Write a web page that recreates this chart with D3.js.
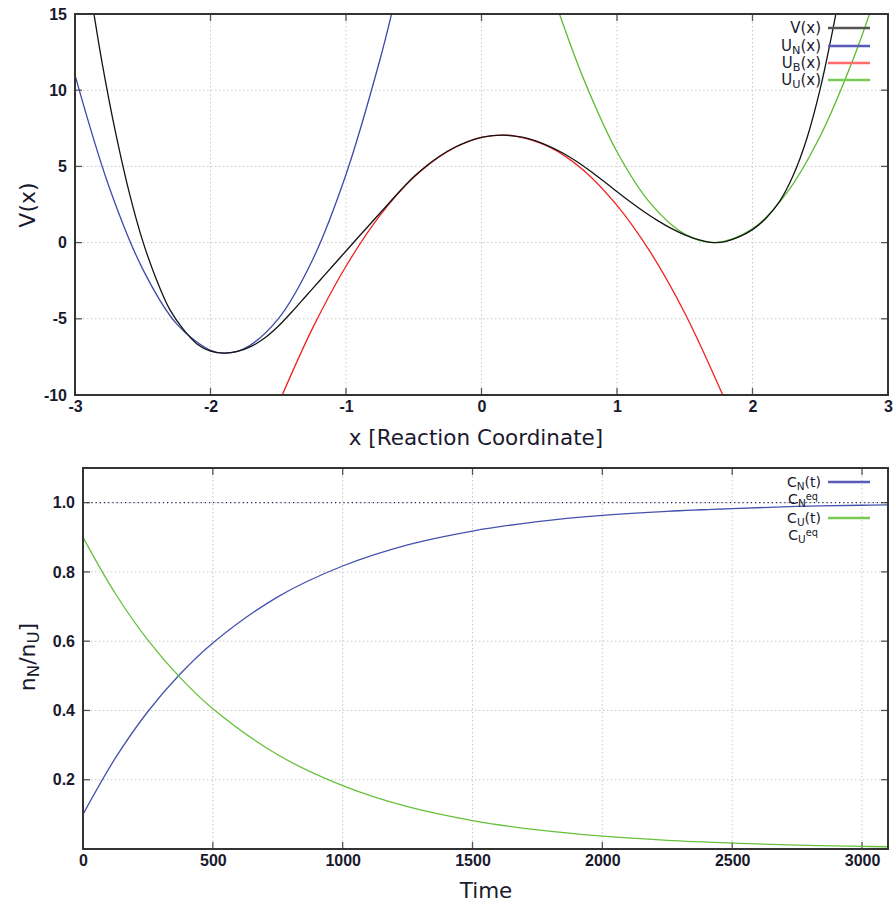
<!DOCTYPE html>
<html><head><meta charset="utf-8">
<script src="https://cdn.jsdelivr.net/npm/d3@7"></script>
<style>body{margin:0;background:#fff;} svg{display:block;}</style>
</head><body>
<svg id="c" width="894" height="906"></svg>
<script>
// ---------- top panel data ----------
const xTicksTop = [-3, -2, -1, 0, 1, 2, 3];
const yTicksTop = [-10, -5, 0, 5, 10, 15];
const vX = [-2.9, -2.86, -2.8, -2.7, -2.6, -2.5, -2.4, -2.3, -2.2, -2.1, -2.0, -1.9, -1.8, -1.7, -1.6, -1.5, -1.4, -1.3, -1.2, -1.1, -1.0, -0.9, -0.8, -0.7, -0.6, -0.5, -0.4, -0.3, -0.2, -0.1, 0.0, 0.155, 0.3, 0.4, 0.5, 0.6, 0.7, 0.8, 0.9, 1.0, 1.1, 1.2, 1.3, 1.4, 1.5, 1.6, 1.72, 1.8, 1.9, 2.0, 2.1, 2.2, 2.3, 2.4, 2.5, 2.6, 2.66];
const vY = [17.3, 15, 11.8, 7.2, 3.3, 0.1, -2.4, -4.4, -5.7, -6.65, -7.12, -7.25, -7.14, -6.81, -6.26, -5.49, -4.55, -3.55, -2.55, -1.55, -0.55, 0.45, 1.43, 2.42, 3.40, 4.32, 5.08, 5.72, 6.24, 6.63, 6.90, 7.05, 6.92, 6.68, 6.32, 5.88, 5.34, 4.72, 4.04, 3.34, 2.66, 2.02, 1.44, 0.93, 0.51, 0.2, 0, 0.07, 0.37, 0.85, 1.6, 2.7, 4.4, 6.8, 10.1, 14.3, 17.2];
const uNX = [-3.0, -2.75, -2.5, -2.25, -2.0, -1.89, -1.75, -1.5, -1.25, -1.0, -0.75, -0.65];
const uNY = [10.99, 3.70, -1.74, -5.33, -7.07, -7.25, -6.96, -5.00, -1.19, 4.47, 11.98, 15.51];
const uBX = [-1.49, -1.25, -1.0, -0.75, -0.5, -0.25, 0.0, 0.155, 0.25, 0.5, 0.75, 1.0, 1.25, 1.5, 1.79];
const uBY = [-10.40, -5.68, -1.55, 1.77, 4.28, 5.99, 6.90, 7.05, 6.99, 6.28, 4.77, 2.44, -0.68, -4.62, -10.19];
const uUX = [0.56, 0.75, 1.0, 1.25, 1.5, 1.72, 2.0, 2.25, 2.5, 2.75, 2.89];
const uUY = [15.4, 10.82, 5.96, 2.54, 0.557, 0, 0.90, 3.23, 7.00, 12.20, 15.7];

// ---------- bottom panel data ----------
const xTicksBot = [0, 500, 1000, 1500, 2000, 2500, 3000];
const yTicksBot = [0.2, 0.4, 0.6, 0.8, 1.0];
const tVals = [0, 125, 250, 375, 500, 750, 1000, 1250, 1500, 1750, 2000, 2250, 2500, 2750, 3000, 3100];
const cU = [0.90, 0.737, 0.603, 0.494, 0.405, 0.272, 0.183, 0.122, 0.082, 0.055, 0.037, 0.025, 0.017, 0.011, 0.0075, 0.0065];
const cN = [0.10, 0.263, 0.397, 0.506, 0.595, 0.728, 0.817, 0.878, 0.918, 0.945, 0.963, 0.975, 0.983, 0.989, 0.9925, 0.9935];
const cNeq = 1.0;

const svg = d3.select("#c");
const tickFont = "'Liberation Sans', Arial, sans-serif";
const labFont = "'DejaVu Sans', Verdana, sans-serif";
const textCol = "#1a1a2e";
const hy = f => (d => f(d).replace("\u2212", "-"));

function panel(opts) {
  const {x0, x1, y0, y1, xd, yd, xt, yt, yfmt, id} = opts;
  const x = d3.scaleLinear().domain(xd).range([x0, x1]);
  const y = d3.scaleLinear().domain(yd).range([y1, y0]);
  const g = svg.append("g");
  g.append("g").selectAll("line").data(xt.filter(v => x(v) > x0 + 1 && x(v) < x1 - 1)).join("line")
    .attr("x1", d => x(d)).attr("x2", d => x(d)).attr("y1", y0).attr("y2", y1)
    .attr("stroke", "#c8c8c8").attr("stroke-width", 1).attr("stroke-dasharray", "1.5,2.5");
  g.append("g").selectAll("line").data(yt.filter(v => y(v) > y0 + 1 && y(v) < y1 - 1)).join("line")
    .attr("y1", d => y(d)).attr("y2", d => y(d)).attr("x1", x0).attr("x2", x1)
    .attr("stroke", "#c8c8c8").attr("stroke-width", 1).attr("stroke-dasharray", "1.5,2.5");
  const ax = g.append("g").attr("transform", `translate(0,${y1})`)
    .call(d3.axisBottom(x).tickValues(xt).tickSize(0).tickPadding(6).tickFormat(hy(d3.format("d"))));
  const ay = g.append("g").attr("transform", `translate(${x0},0)`)
    .call(d3.axisLeft(y).tickValues(yt).tickSize(0).tickPadding(8).tickFormat(hy(yfmt)));
  [ax, ay].forEach(a => {
    a.select(".domain").remove();
    a.selectAll("text").attr("font-family", tickFont).attr("font-weight", "bold")
      .attr("font-size", 16).attr("fill", textCol);
  });
  const tl = 7;
  const tk = g.append("g").attr("stroke", "#555").attr("stroke-width", 1.3);
  xt.forEach(v => {
    tk.append("line").attr("x1", x(v)).attr("x2", x(v)).attr("y1", y1).attr("y2", y1 - tl);
    tk.append("line").attr("x1", x(v)).attr("x2", x(v)).attr("y1", y0).attr("y2", y0 + tl);
  });
  yt.forEach(v => {
    tk.append("line").attr("y1", y(v)).attr("y2", y(v)).attr("x1", x0).attr("x2", x0 + tl);
    tk.append("line").attr("y1", y(v)).attr("y2", y(v)).attr("x1", x1).attr("x2", x1 - tl);
  });
  svg.append("clipPath").attr("id", id).append("rect")
    .attr("x", x0).attr("y", y0).attr("width", x1 - x0).attr("height", y1 - y0);
  const plot = svg.append("g").attr("clip-path", `url(#${id})`);
  return {x, y, g, plot, x0, x1, y0, y1};
}

function border(p) {
  svg.append("rect").attr("x", p.x0).attr("y", p.y0).attr("width", p.x1 - p.x0).attr("height", p.y1 - p.y0)
    .attr("fill", "none").attr("stroke", "#333").attr("stroke-width", 2);
}

function addLabelSub(sel, parts) {
  parts.forEach(([t, k]) => {
    const ts = sel.append("tspan").text(t);
    if (k === "sub") ts.attr("baseline-shift", "-25%").attr("font-size", "0.75em");
    if (k === "sup") ts.attr("baseline-shift", "40%").attr("font-size", "0.7em");
  });
}

// ---------- top panel ----------
const pTop = panel({x0: 75, x1: 888, y0: 14, y1: 395, xd: [-3, 3], yd: [-10, 15],
  xt: xTicksTop, yt: yTicksTop, yfmt: d3.format("d"), id: "clipTop"});
const lineT = d3.line().x(d => pTop.x(d[0])).y(d => pTop.y(d[1])).curve(d3.curveCatmullRom.alpha(0.5));
const topSeries = [
  {xs: uNX, ys: uNY, col: "#3d4aa8"},
  {xs: uBX, ys: uBY, col: "#f02020"},
  {xs: uUX, ys: uUY, col: "#5cbb2c"},
  {xs: vX, ys: vY, col: "#141414"}
];
topSeries.forEach(s => {
  pTop.plot.append("path").datum(d3.zip(s.xs, s.ys)).attr("d", lineT)
    .attr("fill", "none").attr("stroke", s.col).attr("stroke-width", 1.3);
});
border(pTop);
const legTop = [
  {parts: [["V(x)", "n"]], col: "#555", y: 28},
  {parts: [["U", "n"], ["N", "sub"], ["(x)", "n"]], col: "#5a5ab8", y: 46},
  {parts: [["U", "n"], ["B", "sub"], ["(x)", "n"]], col: "#ff6b6b", y: 63},
  {parts: [["U", "n"], ["U", "sub"], ["(x)", "n"]], col: "#7acb55", y: 80}
];
legTop.forEach(l => {
  const t = svg.append("text").attr("x", 821).attr("y", l.y + 5).attr("text-anchor", "end")
    .attr("font-family", labFont).attr("font-size", 15).attr("fill", textCol);
  addLabelSub(t, l.parts);
  svg.append("line").attr("x1", 828).attr("x2", 870).attr("y1", l.y).attr("y2", l.y)
    .attr("stroke", l.col).attr("stroke-width", 2.5);
});
svg.append("text").attr("x", 476).attr("y", 445).attr("text-anchor", "middle")
  .attr("font-family", labFont).attr("font-size", 21.5).attr("fill", textCol).text("x [Reaction Coordinate]");
svg.append("text").attr("transform", "translate(35,205) rotate(-90)").attr("text-anchor", "middle")
  .attr("font-family", labFont).attr("font-size", 22).attr("fill", textCol).text("V(x)");

// ---------- bottom panel ----------
const pBot = panel({x0: 83, x1: 888, y0: 468, y1: 849, xd: [0, 3100], yd: [0, 1.1],
  xt: xTicksBot, yt: yTicksBot, yfmt: d3.format(".1f"), id: "clipBot"});
const lineB = d3.line().x(d => pBot.x(d[0])).y(d => pBot.y(d[1])).curve(d3.curveCatmullRom.alpha(0.5));
pBot.plot.append("line").attr("x1", pBot.x0).attr("x2", pBot.x1).attr("y1", pBot.y(cNeq)).attr("y2", pBot.y(cNeq))
  .attr("stroke", "#2a2a50").attr("stroke-width", 1.2).attr("stroke-dasharray", "1.2,3");
pBot.plot.append("path").datum(d3.zip(tVals, cN)).attr("d", lineB)
  .attr("fill", "none").attr("stroke", "#4452ad").attr("stroke-width", 1.3);
pBot.plot.append("path").datum(d3.zip(tVals, cU)).attr("d", lineB)
  .attr("fill", "none").attr("stroke", "#66c03a").attr("stroke-width", 1.3);
border(pBot);
const legBot = [
  {parts: [["C", "n"], ["N", "sub"], ["(t)", "n"]], col: "#5a5ab8", y: 482, xr: 821},
  {parts: [["C", "n"], ["N", "sub"], ["eq", "sup"]], col: null, y: 499, xr: 818},
  {parts: [["C", "n"], ["U", "sub"], ["(t)", "n"]], col: "#7acb55", y: 518, xr: 821},
  {parts: [["C", "n"], ["U", "sub"], ["eq", "sup"]], col: null, y: 535, xr: 818}
];
legBot.forEach(l => {
  const t = svg.append("text").attr("x", l.xr).attr("y", l.y + 5).attr("text-anchor", "end")
    .attr("font-family", labFont).attr("font-size", 14).attr("fill", textCol);
  addLabelSub(t, l.parts);
  if (l.col) svg.append("line").attr("x1", 828).attr("x2", 870).attr("y1", l.y).attr("y2", l.y)
    .attr("stroke", l.col).attr("stroke-width", 2.5);
});
svg.append("text").attr("x", 486).attr("y", 898).attr("text-anchor", "middle")
  .attr("font-family", labFont).attr("font-size", 21.5).attr("fill", textCol).text("Time");
const yl = svg.append("text").attr("transform", "translate(35,657) rotate(-90)").attr("text-anchor", "middle")
  .attr("font-family", labFont).attr("font-size", 22).attr("fill", textCol);
addLabelSub(yl, [["n", "n"], ["N", "sub"], ["/n", "n"], ["U", "sub"], ["]", "n"]]);
</script>
</body></html>
